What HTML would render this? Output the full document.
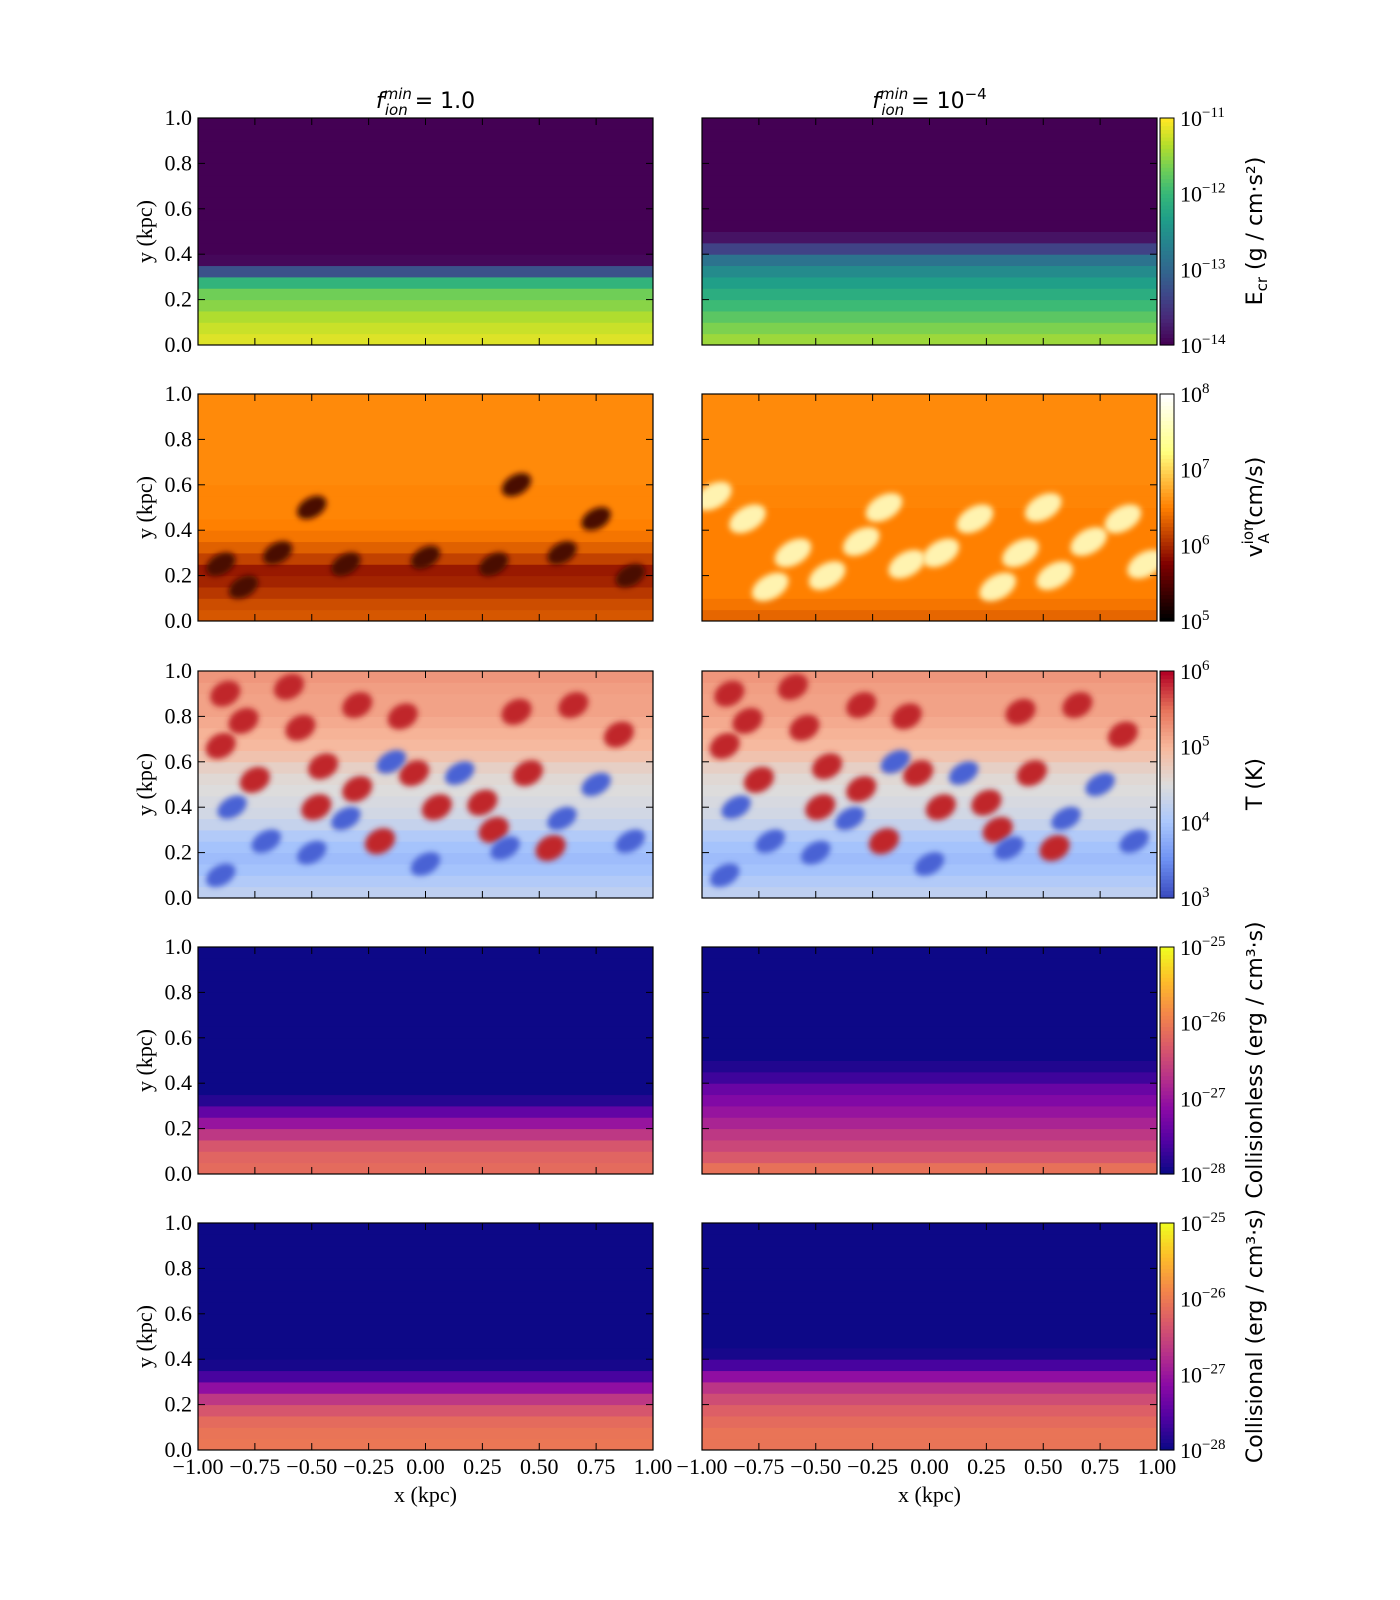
<!DOCTYPE html>
<html><head><meta charset="utf-8"><style>
body{margin:0;background:#fff;}
svg{display:block;font-family:"Liberation Serif",serif;}
.sans{font-family:"DejaVu Sans","Liberation Sans",sans-serif;}
</style></head><body>
<svg id="fig" width="1400" height="1600" viewBox="0 0 1400 1600" xmlns="http://www.w3.org/2000/svg"></svg>
<script>
// ---- data ----
const yTicks = [0.0,0.2,0.4,0.6,0.8,1.0];
const xTicks = [-1.00,-0.75,-0.50,-0.25,0.00,0.25,0.50,0.75,1.00];
// y-profiles (normalized colour values, 20 bins from y=0 to y=1)
const ecrLeft  = [0.95,0.92,0.88,0.82,0.78,0.65,0.25,0.02,0,0,0,0,0,0,0,0,0,0,0,0];
const ecrRight = [0.85,0.8,0.74,0.68,0.62,0.56,0.48,0.38,0.2,0.05,0,0,0,0,0,0,0,0,0,0];
const vaLeft   = [0.42,0.4,0.36,0.32,0.3,0.38,0.44,0.48,0.5,0.51,0.51,0.51,0.52,0.52,0.52,0.52,0.52,0.52,0.52,0.52];
const vaRight  = [0.45,0.48,0.5,0.5,0.5,0.5,0.5,0.5,0.5,0.5,0.51,0.51,0.52,0.52,0.52,0.52,0.52,0.52,0.52,0.52];
const tLeft    = [0.4,0.36,0.32,0.3,0.32,0.36,0.42,0.46,0.48,0.5,0.52,0.56,0.62,0.66,0.68,0.7,0.72,0.72,0.73,0.75];
const tRight   = [0.4,0.36,0.32,0.3,0.32,0.36,0.42,0.46,0.48,0.5,0.52,0.56,0.62,0.66,0.68,0.7,0.72,0.72,0.73,0.75];
const clLeft   = [0.62,0.6,0.55,0.45,0.32,0.18,0.05,0,0,0,0,0,0,0,0,0,0,0,0,0];
const clRight  = [0.64,0.56,0.5,0.45,0.38,0.32,0.26,0.2,0.1,0.04,0,0,0,0,0,0,0,0,0,0];
const coLeft   = [0.66,0.65,0.62,0.55,0.45,0.3,0.12,0.02,0,0,0,0,0,0,0,0,0,0,0,0];
const coRight  = [0.65,0.65,0.62,0.58,0.52,0.44,0.3,0.12,0.02,0,0,0,0,0,0,0,0,0,0,0];
// blob features (x kpc, y kpc)
const tRedX  = [-0.88,-0.8,-0.9,-0.6,-0.55,-0.3,-0.45,-0.75,-0.48,-0.3,-0.2,-0.1,-0.05,0.05,0.25,0.3,0.45,0.55,0.65,0.85,0.4];
const tRedY  = [0.9,0.78,0.67,0.93,0.75,0.85,0.58,0.52,0.4,0.48,0.25,0.8,0.55,0.4,0.42,0.3,0.55,0.22,0.85,0.72,0.82];
const tBlueX = [-0.85,-0.7,-0.5,-0.35,0.15,0.35,0.6,0.75,0.9,-0.15,-0.9,0.0];
const tBlueY = [0.4,0.25,0.2,0.35,0.55,0.22,0.35,0.5,0.25,0.6,0.1,0.15];
const vaLightX = [-0.95,-0.8,-0.6,-0.45,-0.3,-0.1,0.05,0.2,0.4,0.55,0.7,0.85,0.95,-0.2,0.5,-0.7,0.3];
const vaLightY = [0.55,0.45,0.3,0.2,0.35,0.25,0.3,0.45,0.3,0.2,0.35,0.45,0.25,0.5,0.5,0.15,0.15];
const vaDarkX = [-0.9,-0.65,-0.35,0.0,0.3,0.6,0.9,-0.5,0.4,-0.8,0.75];
const vaDarkY = [0.25,0.3,0.25,0.28,0.25,0.3,0.2,0.5,0.6,0.15,0.45];
const cbTicks1 = ["−11","−12","−13","−14"];
const cbTicks2 = ["8","7","6","5"];
const cbTicks3 = ["6","5","4","3"];
const cbTicks4 = ["−25","−26","−27","−28"];
</script>
<script>
const NS="http://www.w3.org/2000/svg";
const svg=document.getElementById('fig');
function el(t,a,p){const e=document.createElementNS(NS,t);for(const k in a)e.setAttribute(k,a[k]);(p||svg).appendChild(e);return e;}
function hex(h){return [parseInt(h.slice(1,3),16),parseInt(h.slice(3,5),16),parseInt(h.slice(5,7),16)];}
function mk(stops){const c=stops.map(hex);return v=>{v=Math.max(0,Math.min(1,v));const f=v*(c.length-1);const i=Math.min(c.length-2,Math.floor(f));const t=f-i;return 'rgb('+c[i].map((x,k)=>Math.round(x+(c[i+1][k]-x)*t)).join(',')+')';};}
const viridis=mk(['#440154','#482878','#3e4989','#31688e','#26828e','#1f9e89','#35b779','#6ece58','#b5de2b','#fde725']);
const afmhot=v=>{const c=x=>Math.round(255*Math.max(0,Math.min(1,x)));return 'rgb('+c(2*v)+','+c(2*v-0.5)+','+c(2*v-1)+')';};
const coolwarm=mk(['#3b4cc0','#6f92f3','#aac7fd','#dddcdc','#f7b89c','#e7745b','#b40426']);
const plasma=mk(['#0d0887','#5302a3','#8b0aa5','#b83289','#db5c68','#f48849','#febd2a','#f0f921']);

const rowsY=[118,394,671,947,1223], H=227, colsX=[198,702], W=455;
const panels=[[ecrLeft,ecrRight,viridis,cbTicks1],[vaLeft,vaRight,afmhot,cbTicks2],[tLeft,tRight,coolwarm,cbTicks3],[clLeft,clRight,plasma,cbTicks4],[coLeft,coRight,plasma,cbTicks4]];
const cbNames=['ecr','alfven-speed','temperature','collisionless','collisional'];
const xs=(x0,v)=>x0+(v+1)/2*W;
const ys=(y0,v)=>y0+H-v*H;
const defs=el('defs',{});
defs.innerHTML='<filter id="blur" x="-50%" y="-50%" width="200%" height="200%"><feGaussianBlur stdDeviation="3"/></filter>';

function blobs(g,x0,y0,X,Y,col,rx,ry,name){
  X.forEach((xv,i)=>{
    const b=el('ellipse',{cx:xs(x0,xv),cy:ys(y0,Y[i]),rx:rx,ry:ry,fill:col,filter:'url(#blur)',transform:`rotate(-30 ${xs(x0,xv)} ${ys(y0,Y[i])})`},g);
    
    
  });
}

panels.forEach((p,r)=>{
  const y0=rowsY[r];
  [0,1].forEach(c=>{
    const x0=colsX[c], prof=p[c];
    const g=el('g',{});
    
    
    const clip=el('clipPath',{id:'cp'+r+c},defs);
    el('rect',{x:x0,y:y0,width:W,height:H},clip);
    g.setAttribute('clip-path','url(#cp'+r+c+')');
    const n=prof.length;
    prof.forEach((v,i)=>{
      const cell=el('rect',{x:x0,y:ys(y0,(i+1)/n)-0.5,width:W,height:H/n+1,fill:p[2](v)},g);
      
      
    });
    if(r===2){blobs(g,x0,y0,tRedX,tRedY,'#c0282c',16,12,'hot-blob');blobs(g,x0,y0,tBlueX,tBlueY,'#4a62d4',16,10,'cold-blob');}
    if(r===1&&c===1){blobs(g,x0,y0,vaLightX,vaLightY,'#fff3b0',20,12,'fast-blob');}
    if(r===1&&c===0){blobs(g,x0,y0,vaDarkX,vaDarkY,'#4a0800',16,10,'slow-blob');}
    el('rect',{x:x0,y:y0,width:W,height:H,fill:'none',stroke:'#000','stroke-width':1.2});
    yTicks.forEach(t=>{
      const yy=ys(y0,t);
      el('line',{x1:x0,x2:x0+7,y1:yy,y2:yy,stroke:'#000'});
      el('line',{x1:x0+W,x2:x0+W-7,y1:yy,y2:yy,stroke:'#000'});
      if(c===0){const tx=el('text',{x:x0-6,y:yy+7,'text-anchor':'end','font-size':22});tx.textContent=t.toFixed(1);
        }
    });
    xTicks.forEach(t=>{
      const xx=xs(x0,t);
      el('line',{x1:xx,x2:xx,y1:y0+H,y2:y0+H-7,stroke:'#000'});
      el('line',{x1:xx,x2:xx,y1:y0,y2:y0+7,stroke:'#000'});
      if(r===4){const tx=el('text',{x:xx,y:y0+H+24,'text-anchor':'middle','font-size':22});tx.textContent=(t<0?'−':'')+Math.abs(t).toFixed(2);
        }
    });
    if(c===0){const yl=el('text',{x:0,y:0,transform:`translate(152,${y0+H/2}) rotate(-90)`,'text-anchor':'middle','font-size':22});yl.textContent='y (kpc)';
      }
    if(r===4){const xl=el('text',{x:x0+W/2,y:1502,'text-anchor':'middle','font-size':22});xl.textContent='x (kpc)';
      }
  });
  const cb=el('g',{});
  
  
  for(let i=0;i<60;i++){el('rect',{x:1160,y:y0+H-(i+1)*H/60,width:14,height:H/60+0.6,fill:p[2](i/59)},cb);}
  el('rect',{x:1160,y:y0,width:14,height:H,fill:'none',stroke:'#000'},cb);
  p[3].forEach((lab,i)=>{
    const yy=y0+i*H/3;
    const t=el('text',{x:1180,y:yy+8,'font-size':22},cb);
    t.innerHTML='10<tspan dy="-9" font-size="15">'+lab+'</tspan>';
  });
});
[0,1].forEach(i=>{
  const t=el('text',{x:colsX[i]+W/2,y:108,'text-anchor':'middle','font-size':22,class:'sans'});
  t.innerHTML=i===0?'<tspan font-style="italic">f</tspan><tspan font-size="15" font-style="italic" dy="-9">min</tspan><tspan font-size="15" font-style="italic" dx="-27" dy="16">ion</tspan><tspan dy="-7"> = 1.0</tspan>'
   :'<tspan font-style="italic">f</tspan><tspan font-size="15" font-style="italic" dy="-9">min</tspan><tspan font-size="15" font-style="italic" dx="-27" dy="16">ion</tspan><tspan dy="-7"> = 10</tspan><tspan font-size="15" dy="-9">−4</tspan>';
  
});
const cbl=[['E<tspan font-size="15" dy="5">cr</tspan><tspan dy="-5">  (g / cm·s²)</tspan>',231],['v<tspan font-size="15" dy="-9">ion</tspan><tspan font-size="15" dx="-22" dy="16">A</tspan><tspan dy="-7">  (cm/s)</tspan>',507],['T  (K)',784],['Collisionless  (erg / cm³·s)',1060],['Collisional  (erg / cm³·s)',1336]];
cbl.forEach(d=>{
  const t=el('text',{x:0,y:0,transform:`translate(1262,${d[1]}) rotate(-90)`,'text-anchor':'middle','font-size':22,class:'sans'});
  t.innerHTML=d[0];
  
});
</script>
</body></html>
